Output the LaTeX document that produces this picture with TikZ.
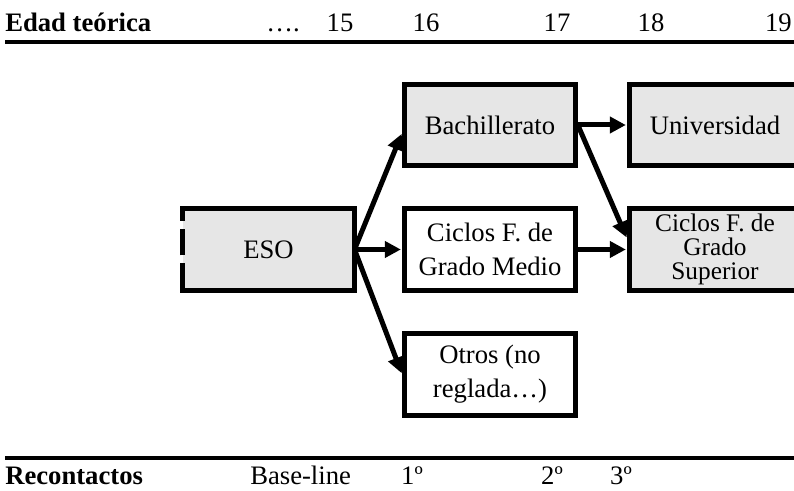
\documentclass[tikz,border=0pt]{standalone}
\usepackage{fontspec}
\setmainfont{Liberation Serif}
\usetikzlibrary{arrows.meta, calc}
\definecolor{boxgray}{RGB}{230,230,230}

\begin{document}
\begin{tikzpicture}[
x=0.75pt, y=-0.75pt,
texts/.style = {text=black, inner sep=0pt, font=\fontsize{20}{25.5}\selectfont},
headtexts/.style = {texts, font=\fontsize{20}{25.5}\selectfont\bfseries},
stagebox/.style = {texts, draw=black, line width=3.75pt, minimum width=128pt, minimum height=61pt, align=center},
graybox/.style = {stagebox, fill=boxgray},
rulerline/.style = {draw=black, line width=2.6pt},
flow/.style = {draw=black, line width=3.75pt, shorten >=1pt, -{Triangle[length=12pt, width=12pt]}}
]
\useasboundingbox (0,0) rectangle (794,491);
\clip (0,0) rectangle (794,491);

% age header
\node[headtexts, anchor=base west] (edad) at (5,32) {Edad teórica};
\node[texts, anchor=base] (agedots) at (283,32) {….};
\node[texts, anchor=base] (age15) at (340,32) {15};
\node[texts, anchor=base] (age16) at (426,32) {16};
\node[texts, anchor=base] (age17) at (557,32) {17};
\node[texts, anchor=base] (age18) at (651,32) {18};
\node[texts, anchor=base east] (age19) at (792,32) {19};
\coordinate (topl) at (5,42);
\coordinate (topr) at (794,42);
\draw[rulerline] (topl) -- (topr);

% stages
\node[graybox, draw=none, outer sep=0pt, minimum width=129pt] (eso) at (268.5,249.5) {ESO};
\draw[line width=3.75pt, line cap=rect] (eso.south west) -- (eso.south east) -- (eso.north east) -- (eso.north west);
\draw[line width=3.75pt, dash pattern=on 20pt off 6pt] (eso.south west) -- (eso.north west);
\node[graybox] (bach) at (490,125) {Bachillerato};
\node[graybox] (univ) at (715,125) {Universidad};
\node[stagebox] (medio) at (490,249.5) {Ciclos F. de\\Grado Medio};
\node[graybox, font=\fontsize{19}{18}\selectfont] (sup) at (715,249.5) {Ciclos F. de\\Grado\\Superior};
\node[stagebox] (otros) at (490,374.5) {Otros (no\\reglada…)};

\draw[flow] (eso.east) -- (bach.185);
\draw[flow] (eso.east) -- (medio.west);
\draw[flow] (eso.east) -- (otros.west);
\draw[flow] (bach.east) -- (univ.west);
\draw[flow] (bach.east) -- (sup.173);
\draw[flow] (medio.east) -- (sup.west);

% follow-up footer
\coordinate (botl) at (5,458);
\coordinate (botr) at (794,458);
\draw[rulerline] (botl) -- (botr);
\node[headtexts, anchor=base west] (recon) at (5,485) {Recontactos};
\node[texts, anchor=base west] (baseline) at (250,485) {Base-line};
\node[texts, anchor=base] (wave1) at (412,485) {1º};
\node[texts, anchor=base] (wave2) at (552,485) {2º};
\node[texts, anchor=base] (wave3) at (621,485) {3º};
\end{tikzpicture}
\end{document}
